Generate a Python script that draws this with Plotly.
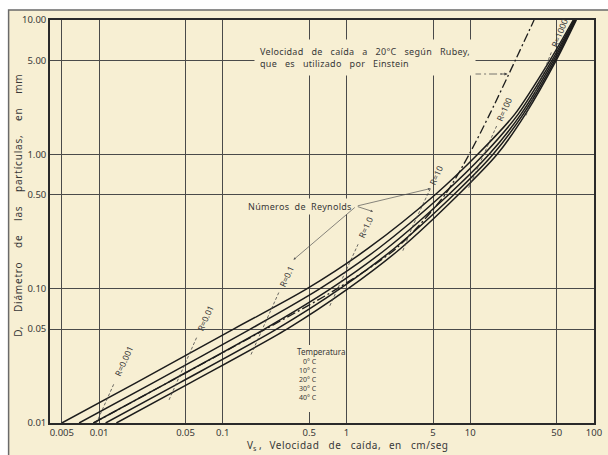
import numpy as np
import plotly.graph_objects as go

# Diámetro de las partículas (mm)
diametro = [0.01, 0.02, 0.05, 0.1, 0.2, 0.5, 1, 2, 5, 10]

# Velocidad de caída (cm/seg) para cada temperatura del agua
temperaturas = ["0°C", "10°C", "20°C", "30°C", "40°C"]
vel_0 = [0.005, 0.02, 0.122, 0.48, 1.5, 5.2, 11.5, 23, 44, 68]
vel_10 = [0.0069, 0.0275, 0.167, 0.61, 1.82, 5.96, 12.9, 24.5, 45.7, 69.2]
vel_20 = [0.009, 0.0359, 0.217, 0.746, 2.13, 6.67, 14.2, 25.8, 47.1, 70.2]
vel_30 = [0.0113, 0.0451, 0.272, 0.887, 2.44, 7.35, 15.3, 26.9, 48.4, 71.1]
vel_40 = [0.0138, 0.055, 0.33, 1.03, 2.75, 8.0, 16.5, 28, 49.5, 72]
velocidades = [vel_0, vel_10, vel_20, vel_30, vel_40]

# Viscosidad cinemática del agua (cm²/seg) a cada temperatura
viscosidad = [0.01787, 0.01307, 0.01004, 0.00801, 0.00658]

# Velocidad de caída a 20°C según Rubey
vel_rubey = [0.009, 0.036, 0.222, 0.84, 2.53, 6.24, 9.8, 14.4, 23.1, 32.8]

# Números de Reynolds señalados sobre las curvas
reynolds = [0.001, 0.01, 0.1, 1, 10, 100, 1000]
reynolds_txt = ["R=0.001", "R=0.01", "R=0.1", "R=1.0", "R=10", "R=100", "R=1000"]

x_ticks = [0.005, 0.01, 0.05, 0.1, 0.5, 1, 5, 10, 50, 100]
x_tick_txt = ["0.005", "0.01", "0.05", "0.1", "0.5", "1", "5", "10", "50", "100"]
y_ticks = [0.01, 0.05, 0.1, 0.5, 1, 5, 10]
y_tick_txt = ["0.01", "0.05", "0.10", "0.50", "1.00", "5.00", "10.00"]

W, H = 608, 455
M = dict(l=50, r=6, t=20, b=32)
XR = [np.log10(0.005) - 0.0956, 2.0]
YR = [-2.0, 1.0]
KX = (W - M["l"] - M["r"]) / (XR[1] - XR[0])   # px por década
KY = (H - M["t"] - M["b"]) / (YR[1] - YR[0])
PW = W - M["l"] - M["r"]
PH = H - M["t"] - M["b"]

PAPEL = "#f7efd3"
TINTA = "#1c1c1c"
TEXTO = "#383838"
FUENTE = "Noto Sans"
NB = "\u00a0"


def esp(s, n=3, ls=None):
    t = s.replace(" ", NB * n)
    if ls:
        t = '<span style="letter-spacing:%spx">%s</span>' % (ls, t)
    return t


def paper_a_log(px, py):
    return XR[0] + px * (XR[1] - XR[0]), YR[0] + py * (YR[1] - YR[0])


fig = go.Figure()

# Curvas de velocidad de caída por temperatura
for nombre, vel in zip(temperaturas, velocidades):
    fig.add_trace(go.Scatter(
        x=vel, y=diametro, mode="lines", name=nombre,
        line=dict(color=TINTA, width=1.5, shape="spline", smoothing=0.8),
        hoverinfo="skip", showlegend=False))

# Curva de Rubey (20°C)
fig.add_trace(go.Scatter(
    x=vel_rubey, y=diametro, mode="lines", name="Rubey 20°C",
    line=dict(color=TINTA, width=1.3, dash="9px,3px,2px,3px", shape="spline", smoothing=0.8),
    hoverinfo="skip", showlegend=False))


def punto_reynolds(vel, nu, R):
    ld_all = np.log10(diametro)
    lv_all = np.log10(vel)
    re = np.log10(np.array(vel) * np.array(diametro) / 10.0 / nu)
    lr = np.log10(R)
    if lr < re[0] or lr > re[-1]:
        return None
    ld = np.interp(lr, re, ld_all)
    lv = np.interp(ld, ld_all, lv_all)
    return lv, ld


annots = []
extremos = {}
for R, txt in zip(reynolds, reynolds_txt):
    pts = [punto_reynolds(v, nu, R) for v, nu in zip(velocidades, viscosidad)]
    pts = [p for p in pts if p is not None]
    P0 = np.array([pts[0][0] * KX, pts[0][1] * KY])
    P1 = np.array([pts[-1][0] * KX, pts[-1][1] * KY])
    u = (P0 - P1) / np.linalg.norm(P0 - P1)
    media = len(txt) * 3.0
    dist = 20 + media
    ini = P1 - u * 8
    fin = P0 + u * (dist - media - 3)
    xs = [ini[0]] + [p[0] * KX for p in reversed(pts)] + [fin[0]]
    ys = [ini[1]] + [p[1] * KY for p in reversed(pts)] + [fin[1]]
    fig.add_trace(go.Scatter(
        x=[10 ** (a / KX) for a in xs], y=[10 ** (b / KY) for b in ys],
        mode="lines", line=dict(color="#444", width=0.8, dash="3px,2px"),
        hoverinfo="skip", showlegend=False))
    c = P0 + u * dist
    ang = -np.degrees(np.arctan2(u[1], u[0]))
    annots.append(dict(x=c[0] / KX, y=c[1] / KY, xref="x", yref="y", text=txt,
                       xanchor="center", yanchor="middle",
                       textangle=ang, showarrow=False,
                       font=dict(family=FUENTE, size=8.5, color=TEXTO)))
    extremos[R] = (c + u * (media + 3), c - u * (media + 3))

# Textos del gráfico
annots.append(dict(x=0.375, y=0.908, xref="paper", yref="paper", xanchor="left", yanchor="middle",
                   align="left", showarrow=False, bgcolor=PAPEL, borderpad=5,
                   text=esp("Velocidad de caída a 20°C según Rubey,", 3, 0.3) + "<br>" +
                   esp("que es utilizado por Einstein", 3, 0.3),
                   font=dict(family=FUENTE, size=9, color=TEXTO)))

annots.append(dict(x=0.559, y=0.538, xref="paper", yref="paper", xanchor="right", yanchor="middle",
                   showarrow=False, bgcolor=PAPEL, borderpad=1,
                   text=esp("Números de Reynolds", 2, 0.3),
                   font=dict(family=FUENTE, size=9, color=TEXTO)))

# Flechas desde "Números de Reynolds" hacia R=0.1, R=1.0 y R=10
cola = paper_a_log(0.563, 0.538)
for R, cual in [(0.1, 0), (1, 0), (10, 1)]:
    p = extremos[R][cual]
    annots.append(dict(x=p[0] / KX, y=p[1] / KY, xref="x", yref="y",
                       ax=cola[0], ay=cola[1], axref="x", ayref="y", text="",
                       showarrow=True, arrowhead=2, arrowsize=0.7, arrowwidth=0.7,
                       arrowcolor="#555"))

# Línea indicadora de la curva de Rubey
y_ind = paper_a_log(0, 0.866)[1]
x_ini = paper_a_log(0.513, 0)[0]
ld_all = np.log10(diametro)
x_fin = np.interp(y_ind, ld_all, np.log10(vel_rubey))
fig.add_trace(go.Scatter(
    x=[10 ** x_ini, 10 ** (x_fin - 0.03)], y=[10 ** y_ind] * 2, mode="lines",
    line=dict(color="#555", width=0.8, dash="8px,3px,2px,3px"),
    hoverinfo="skip", showlegend=False))
annots.append(dict(x=x_fin - 0.01, y=y_ind, xref="x", yref="y",
                   ax=x_fin - 0.08, ay=y_ind, axref="x", ayref="y", text="",
                   showarrow=True, arrowhead=2, arrowsize=0.8, arrowwidth=0.8,
                   arrowcolor="#444"))

# Cuadro de temperaturas (interrumpe la línea de 0.5 cm/seg)
annots.append(dict(x=0.498, y=0.178, xref="paper", yref="paper", xanchor="center", yanchor="middle",
                   showarrow=False, text="Temperatura",
                   font=dict(family=FUENTE, size=8, color=TEXTO)))
annots.append(dict(x=0.4946, y=0.107, xref="paper", yref="paper",
                   xanchor="right", yanchor="middle", align="right", showarrow=False,
                   text="<br>".join(t.replace("°", "°" + NB) for t in temperaturas),
                   font=dict(family=FUENTE, size=7, color=TEXTO)))
hueco = dict(type="rect", xref="paper", yref="paper",
             x0=(305 - M["l"]) / PW, x1=(325 - M["l"]) / PW,
             y0=(H - M["b"] - 412) / PH, y1=(H - M["b"] - 345) / PH,
             fillcolor=PAPEL, line=dict(width=0), layer="above")

# Títulos de ejes
annots.append(dict(x=0.547, y=-0.057, xref="paper", yref="paper", xanchor="center", yanchor="middle",
                   showarrow=False,
                   text="V<sub>s</sub>" + NB + "," + NB * 3 + esp("Velocidad de caída,", 3, 0.5)
                   + NB * 3 + esp("en cm/seg", 3, 0.5),
                   font=dict(family=FUENTE, size=10, color=TEXTO)))
annots.append(dict(x=-0.058, y=0.54, xref="paper", yref="paper", xanchor="center", yanchor="middle",
                   showarrow=False, textangle=-90,
                   text=esp("D, Diámetro de las partículas, en mm", 4, 0.8),
                   font=dict(family=FUENTE, size=10, color=TEXTO)))

eje = dict(type="log", showline=True, mirror=True, linecolor="#2a2a2a", linewidth=1.6,
           showgrid=True, gridcolor="#4a4a4a", gridwidth=0.9, ticks="", zeroline=False,
           tickfont=dict(family=FUENTE, size=9.5, color=TEXTO))

fig.update_layout(
    width=W, height=H, margin=M,
    paper_bgcolor="white", plot_bgcolor="rgba(0,0,0,0)",
    xaxis=dict(eje, range=XR, tickvals=x_ticks, ticktext=x_tick_txt, ticklabeloverflow="allow"),
    yaxis=dict(eje, range=YR, tickvals=y_ticks, ticktext=y_tick_txt),
    annotations=annots,
    shapes=[dict(type="rect", xref="paper", yref="paper", x0=-0.0761, x1=1.03, y0=-0.11, y1=1.0248,
                 fillcolor=PAPEL, line=dict(color="#6a6a6a", width=1.5), layer="below"),
            hueco],
)

fig.write_html("out.html")
